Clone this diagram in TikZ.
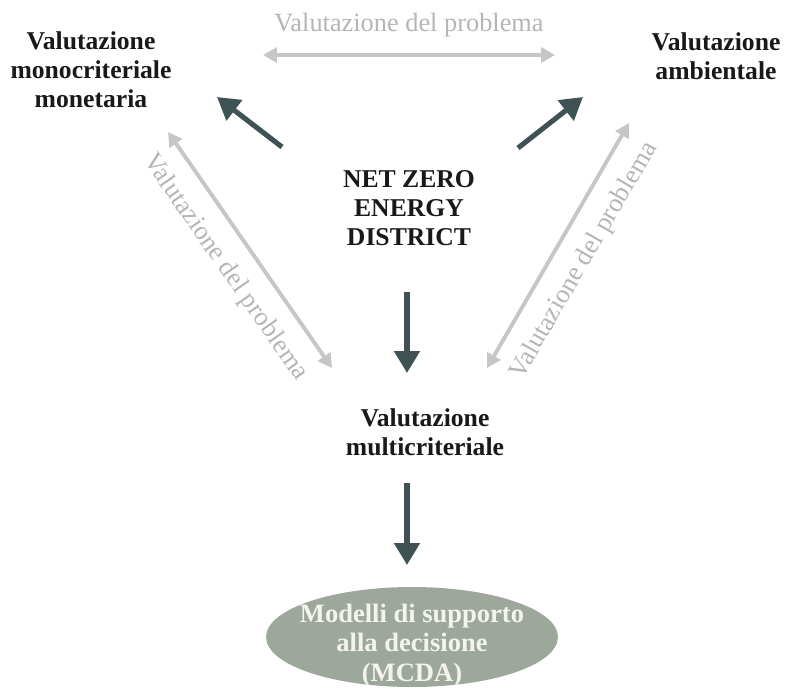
\documentclass[tikz,border=0pt]{standalone}
\usepackage{fontspec}
\setmainfont{Liberation Serif}
\usetikzlibrary{arrows.meta,calc,positioning,shapes.geometric}
\definecolor{darkslate}{HTML}{3F5254}
\definecolor{lightgrey}{HTML}{C6C6C6}
\definecolor{greytext}{HTML}{B5B5B5}
\definecolor{sage}{HTML}{9EA79C}
\definecolor{ovaltext}{HTML}{F4F4EE}
\tikzset{
  heading/.style={font=\fontsize{14.6}{16.5}\selectfont\bfseries,align=center,text=black!90},
  probtext/.style={font=\fontsize{15}{16.5}\selectfont,text=greytext},
  darrow/.style={draw=darkslate,line width=2.9pt,-{Triangle[width=0.5cm,length=0.44cm]}},
  garrow/.style={draw=lightgrey,line width=2.2pt,{Triangle[width=0.3cm,length=0.28cm]}-{Triangle[width=0.3cm,length=0.28cm]}},
  oval/.style={ellipse,fill=sage,minimum width=5.84cm,minimum height=2cm,inner sep=0pt},
  ovallabel/.style={align=center,text=ovaltext,font=\fontsize{15.1}{16.8}\selectfont\bfseries}
}
\begin{document}
\begin{tikzpicture}[>=Stealth,thick,x=0.02cm,y=-0.02cm]
  \useasboundingbox (0,0) rectangle (785,690);
  \node[heading] (mono) at (91,70) {Valutazione\\monocriteriale\\monetaria};
  \node[heading] (amb) at (716,56) {Valutazione\\ambientale};
  \node[heading] (nzed) at (409,208) {NET ZERO\\ENERGY\\DISTRICT};
  \node[heading] (multi) at (425,432) {Valutazione\\multicriteriale};
  \node[oval] (mcda) at (412,637) {};
  \node[ovallabel] (mcdatext) at ([yshift=-4.8pt]mcda.center) {Modelli di supporto\\alla decisione\\(MCDA)};
  % arrow ends
  \coordinate (nzl) at (282,147);
  \coordinate (monoin) at (217,97);
  \coordinate (nzr) at (518,148);
  \coordinate (ambin) at (583,97);
  \coordinate (nzd) at (407,292);
  \coordinate (multiin) at (407,373);
  \coordinate (multid) at (407,483);
  \coordinate (mcdain) at (407,565);
  \coordinate (topl) at (263,55);
  \coordinate (topr) at (555,55);
  \coordinate (leftu) at (168,132);
  \coordinate (leftd) at (332,368);
  \coordinate (rightd) at (487,368);
  \coordinate (rightu) at (629,123);
  % dark arrows
  \draw[darrow] (nzl) -- (monoin);
  \draw[darrow] (nzr) -- (ambin);
  \draw[darrow] (nzd) -- (multiin);
  \draw[darrow] (multid) -- (mcdain);
  % problem arrows
  \draw[garrow] (topl) -- node[probtext,above=6pt] {Valutazione del problema} (topr);
  \draw[garrow] (leftu) -- node[probtext,midway,sloped,below=6pt] {Valutazione del problema} (leftd);
  \draw[garrow] (rightd) -- node[probtext,midway,sloped,below=6pt] {Valutazione del problema} (rightu);
\end{tikzpicture}
\end{document}
